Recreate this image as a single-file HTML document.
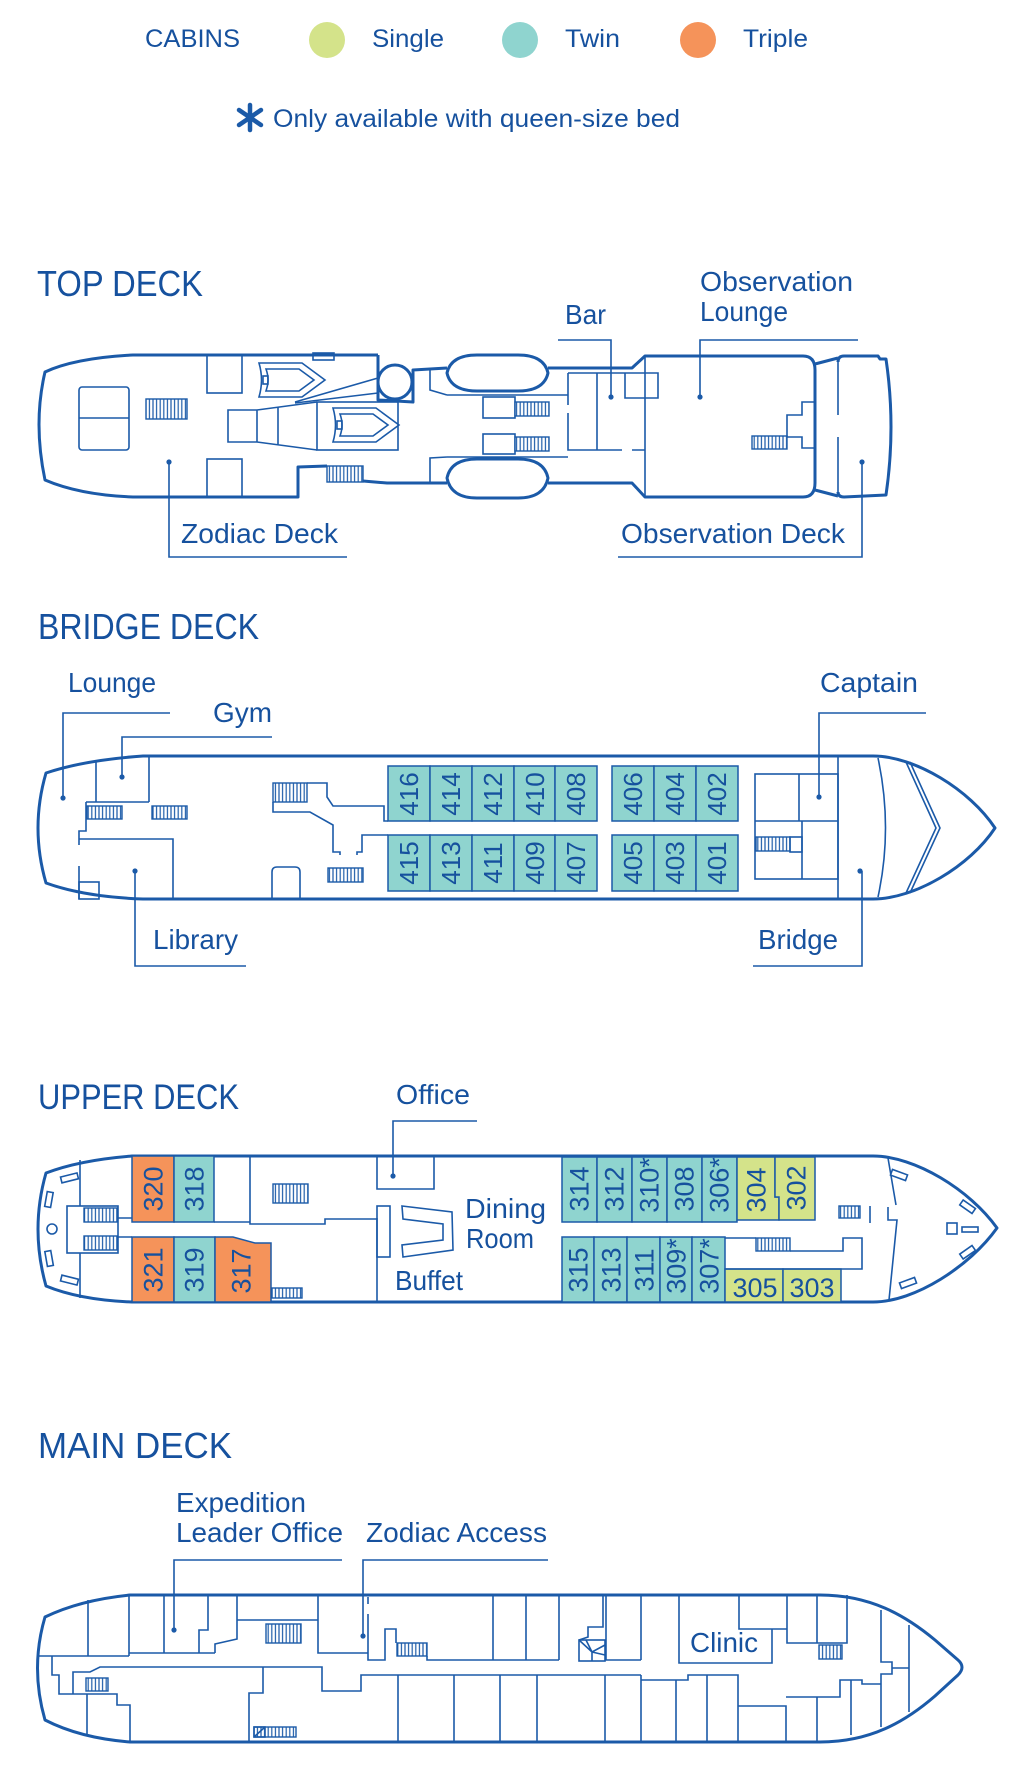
<!DOCTYPE html>
<html><head><meta charset="utf-8"><style>
html,body{margin:0;padding:0;background:#fff}
svg{display:block}
.t{font-family:"Liberation Sans",sans-serif;fill:#16519e}
.hull{fill:none;stroke:#1b5aa8;stroke-width:3;stroke-linejoin:round}
.l{fill:none;stroke:#1b5aa8;stroke-width:1.6}
.st{fill:url(#h);stroke:#1b5aa8;stroke-width:1.4}
.tw{fill:#8fd4cf;stroke:#1b5aa8;stroke-width:1.5}
.or{fill:#f5935a;stroke:#1b5aa8;stroke-width:1.5}
.gr{fill:#d4e38a;stroke:#1b5aa8;stroke-width:1.5}
.d{fill:#1b5aa8}
.n{font-family:"Liberation Sans",sans-serif;fill:#16519e;text-anchor:middle}
</style></head><body>
<svg width="1020" height="1777" viewBox="0 0 1020 1777" xmlns="http://www.w3.org/2000/svg">
<defs>
<pattern id="h" width="3.6" height="10" patternUnits="userSpaceOnUse"><rect width="3.6" height="10" fill="#fff"/><line x1="1.8" y1="0" x2="1.8" y2="10" stroke="#1b5aa8" stroke-width="1.2"/></pattern>
</defs>

<!-- LEGEND -->
<text class="t" x="145" y="47" font-size="25" textLength="95" lengthAdjust="spacingAndGlyphs">CABINS</text>
<circle cx="327" cy="40" r="18" fill="#d4e38a"/>
<text class="t" x="372" y="47" font-size="25" textLength="72" lengthAdjust="spacingAndGlyphs">Single</text>
<circle cx="520" cy="40" r="18" fill="#8fd4cf"/>
<text class="t" x="565" y="47" font-size="25" textLength="55" lengthAdjust="spacingAndGlyphs">Twin</text>
<circle cx="698" cy="40" r="18" fill="#f5935a"/>
<text class="t" x="743" y="47" font-size="25" textLength="65" lengthAdjust="spacingAndGlyphs">Triple</text>
<g stroke="#1b5aa8" stroke-width="4.5" stroke-linecap="round"><line x1="250" y1="105" x2="250" y2="130"/><line x1="239" y1="110" x2="261" y2="125"/><line x1="261" y1="110" x2="239" y2="125"/></g>
<text class="t" x="273" y="127" font-size="25" textLength="407" lengthAdjust="spacingAndGlyphs">Only available with queen-size bed</text>

<!-- TOP DECK -->
<text class="t" x="37" y="296" font-size="36" textLength="166" lengthAdjust="spacingAndGlyphs">TOP DECK</text>
<text class="t" x="565" y="324" font-size="28" textLength="41" lengthAdjust="spacingAndGlyphs">Bar</text>
<text class="t" x="700" y="291" font-size="28" textLength="153" lengthAdjust="spacingAndGlyphs">Observation</text>
<text class="t" x="700" y="321" font-size="28" textLength="88" lengthAdjust="spacingAndGlyphs">Lounge</text>
<text class="t" x="181" y="543" font-size="28" textLength="157" lengthAdjust="spacingAndGlyphs">Zodiac Deck</text>
<text class="t" x="621" y="543" font-size="28" textLength="224" lengthAdjust="spacingAndGlyphs">Observation Deck</text>

<path class="hull" d="M378,355 L133,355 Q75,358 45,372 Q33,423 45,480 Q80,495 133,497 L298,497 L298,467 L327,466 M363,481 L387,483 L447,483"/>
<path class="hull" d="M378,355 V400 L413,402 V370 L447,368"/>
<circle cx="395" cy="382" r="17" class="hull" stroke-width="2.4"/>
<path class="hull" d="M447,373 Q451,355 477,355 L518,355 Q544,355 548,373 Q544,391 518,391 L477,391 Q451,391 447,373 Z"/>
<path class="hull" d="M447,478 Q451,459 477,459 L518,459 Q544,459 548,478 Q544,498 518,498 L477,498 Q451,498 447,478 Z"/>
<path class="hull" d="M548,368 L632,368 L645,356 L803,356 Q815,356 815,370 L815,483 Q815,497 803,497 L645,497 L632,483 L548,483"/>
<path class="hull" d="M815,364 L838,358 M815,490 L838,496"/>
<path class="hull" d="M838,362 Q838,356 844,356 L878,356 L880,359 L886,359 Q896,427 886,495 L844,497 Q838,497 838,492"/>
<path class="l" d="M838,360 V415 M838,437 V495"/>
<path class="l" d="M645,356 V497"/>
<!-- lounge notch -->
<path class="l" d="M815,402 H802 V415 H787 V437 H802 V448 H815"/>
<rect class="st" x="752" y="436" width="35" height="13"/>
<!-- bar -->
<path class="l" d="M568,373 H658 V398 H625 V373 M568,373 V405 M568,413 V450 H622 M632,450 H645 M597,373 V450"/>
<path class="l" d="M447,395 H568 M447,457 H568 M430,368 V390 L447,395 M430,483 V458 L447,457"/>
<!-- middle stairs -->
<rect class="l" x="483" y="397" width="32" height="21"/><rect class="st" x="515" y="402" width="34" height="14"/>
<rect class="l" x="483" y="434" width="32" height="20"/><rect class="st" x="515" y="437" width="34" height="14"/>
<!-- aft interior -->
<rect class="l" x="79" y="387" width="50" height="63" rx="3"/><path class="l" d="M79,418 H129"/>
<rect class="st" x="146" y="399" width="41" height="20"/>
<rect class="l" x="207" y="355" width="35" height="38"/>
<rect class="l" x="207" y="459" width="35" height="38"/>
<rect class="l" x="313" y="353" width="21" height="7"/>
<rect class="st" x="327" y="466" width="36" height="16"/>
<!-- zodiacs -->
<g class="l">
<path d="M259,363 L302,363 L325,380 L302,397 L259,397 Q264,380 259,363 Z"/>
<path d="M266,369 L299,369 L314,380 L299,391 L266,391 Q270,380 266,369 Z"/>
<rect x="263" y="376" width="5" height="8"/>
<path d="M333,408 L376,408 L399,425 L376,442 L333,442 Q338,425 333,408 Z"/>
<path d="M340,414 L373,414 L388,425 L373,436 L340,436 Q344,425 340,414 Z"/>
<rect x="337" y="421" width="5" height="8"/>
</g>
<path class="l" d="M228,410 H257 V442 H228 Z M257,410 L317,402 M257,442 L317,450 M278,407 V445"/>
<rect class="l" x="317" y="402" width="81" height="48"/>
<path class="l" d="M295,402 L378,378 M295,403 L378,393"/>
<!-- leaders -->
<path class="l" d="M169,462 V557 H347 M558,340 H611 V397 M700,397 V340 H858 M618,557 H862 V462"/>
<circle class="d" cx="169" cy="462" r="2.6"/><circle class="d" cx="611" cy="397" r="2.6"/><circle class="d" cx="700" cy="397" r="2.6"/><circle class="d" cx="862" cy="462" r="2.6"/>

<!-- BRIDGE DECK -->
<text class="t" x="38" y="639" font-size="36" textLength="221" lengthAdjust="spacingAndGlyphs">BRIDGE DECK</text>
<text class="t" x="68" y="692" font-size="28" textLength="88" lengthAdjust="spacingAndGlyphs">Lounge</text>
<text class="t" x="213" y="722" font-size="28" textLength="59" lengthAdjust="spacingAndGlyphs">Gym</text>
<text class="t" x="820" y="692" font-size="28" textLength="98" lengthAdjust="spacingAndGlyphs">Captain</text>
<text class="t" x="153" y="949" font-size="28" textLength="85" lengthAdjust="spacingAndGlyphs">Library</text>
<text class="t" x="758" y="949" font-size="28" textLength="80" lengthAdjust="spacingAndGlyphs">Bridge</text>

<path class="hull" d="M143,756 L873,756 C915,756 970,790 995,828 C970,866 915,899 873,899 L143,899 Q85,897 46,883 Q30,828 46,773 Q85,760 143,756 Z"/>
<path class="l" d="M838,756 V899 M878,758 Q893,828 878,897 M906,762 L936,828 L906,893 M910,762 L940,828 L910,893"/>
<rect class="l" x="755" y="774" width="83" height="105"/>
<path class="l" d="M799,774 V821 M755,821 H838 M802,821 V879"/>
<rect class="st" x="756" y="837" width="34" height="14"/><rect class="l" x="790" y="837" width="12" height="15"/>
<!-- aft -->
<path class="l" d="M96,760 V802 M86,802 H149 M149,756 V802 M86,802 V831 H79 V845 M79,839 H173 V899 M79,866 V899"/>
<rect class="l" x="79" y="882" width="20" height="17"/>
<rect class="st" x="87" y="806" width="35" height="13"/><rect class="st" x="152" y="806" width="35" height="13"/>
<!-- middle -->
<rect class="st" x="273" y="783" width="34" height="19"/>
<path class="l" d="M307,783 H327 V797 L333,806 H384 V821 H388 M273,802 V812 H310 L333,825 V852 H340 V855 M357,855 V852 H362 V835 H388"/>
<rect class="st" x="328" y="868" width="35" height="14"/>
<path class="l" d="M272,899 V872 Q272,867 277,867 H295 Q300,867 300,872 V899"/>
<!-- cabins -->
<g>
<rect class="tw" x="388" y="766" width="42" height="55"/><rect class="tw" x="430" y="766" width="42" height="55"/><rect class="tw" x="472" y="766" width="42" height="55"/><rect class="tw" x="514" y="766" width="41" height="55"/><rect class="tw" x="555" y="766" width="42" height="55"/>
<rect class="tw" x="612" y="766" width="42" height="55"/><rect class="tw" x="654" y="766" width="42" height="55"/><rect class="tw" x="696" y="766" width="42" height="55"/>
<rect class="tw" x="388" y="835" width="42" height="56"/><rect class="tw" x="430" y="835" width="42" height="56"/><rect class="tw" x="472" y="835" width="42" height="56"/><rect class="tw" x="514" y="835" width="41" height="56"/><rect class="tw" x="555" y="835" width="42" height="56"/>
<rect class="tw" x="612" y="835" width="42" height="56"/><rect class="tw" x="654" y="835" width="42" height="56"/><rect class="tw" x="696" y="835" width="42" height="56"/>
</g>
<g class="n" font-size="26">
<text transform="translate(409,794) rotate(-90)" y="9">416</text>
<text transform="translate(451,794) rotate(-90)" y="9">414</text>
<text transform="translate(493,794) rotate(-90)" y="9">412</text>
<text transform="translate(535,794) rotate(-90)" y="9">410</text>
<text transform="translate(576,794) rotate(-90)" y="9">408</text>
<text transform="translate(633,794) rotate(-90)" y="9">406</text>
<text transform="translate(675,794) rotate(-90)" y="9">404</text>
<text transform="translate(717,794) rotate(-90)" y="9">402</text>
<text transform="translate(409,863) rotate(-90)" y="9">415</text>
<text transform="translate(451,863) rotate(-90)" y="9">413</text>
<text transform="translate(493,863) rotate(-90)" y="9">411</text>
<text transform="translate(535,863) rotate(-90)" y="9">409</text>
<text transform="translate(576,863) rotate(-90)" y="9">407</text>
<text transform="translate(633,863) rotate(-90)" y="9">405</text>
<text transform="translate(675,863) rotate(-90)" y="9">403</text>
<text transform="translate(717,863) rotate(-90)" y="9">401</text>
</g>
<path class="l" d="M170,713 H63 V798 M272,737 H122 V777 M926,713 H819 V797 M135,871 V966 H246 M753,966 H862 V871"/>
<circle class="d" cx="63" cy="798" r="2.6"/><circle class="d" cx="122" cy="777" r="2.6"/><circle class="d" cx="819" cy="797" r="2.6"/><circle class="d" cx="135" cy="871" r="2.6"/><circle class="d" cx="860" cy="871" r="2.6"/>

<!-- UPPER DECK -->
<text class="t" x="38" y="1109" font-size="35" textLength="201" lengthAdjust="spacingAndGlyphs">UPPER DECK</text>
<text class="t" x="396" y="1104" font-size="28" textLength="74" lengthAdjust="spacingAndGlyphs">Office</text>
<text class="t" x="465" y="1218" font-size="28" textLength="81" lengthAdjust="spacingAndGlyphs">Dining</text>
<text class="t" x="466" y="1248" font-size="28" textLength="68" lengthAdjust="spacingAndGlyphs">Room</text>
<text class="t" x="395" y="1290" font-size="28" textLength="68" lengthAdjust="spacingAndGlyphs">Buffet</text>

<path class="hull" d="M132,1156 L873,1156 C915,1156 970,1190 997,1228 C970,1266 915,1302 873,1302 L132,1302 Q80,1300 46,1286 Q30,1229 46,1173 Q80,1160 132,1156 Z"/>
<!-- cabins -->
<rect class="or" x="132" y="1156" width="42" height="66"/>
<rect class="tw" x="174" y="1156" width="40" height="66"/>
<rect class="or" x="132" y="1237" width="42" height="65"/>
<rect class="tw" x="174" y="1237" width="41" height="65"/>
<path class="or" d="M215,1237 L233,1237 L255,1243 L271,1243 L271,1302 L215,1302 Z"/>
<rect class="tw" x="562" y="1157" width="35" height="65"/><rect class="tw" x="597" y="1157" width="35" height="65"/><rect class="tw" x="632" y="1157" width="35" height="65"/><rect class="tw" x="667" y="1157" width="35" height="65"/><rect class="tw" x="702" y="1157" width="35" height="65"/>
<path class="gr" d="M737,1157 L775,1157 L775,1197 L779,1197 L779,1220 L737,1220 Z"/>
<path class="gr" d="M775,1157 L815,1157 L815,1220 L779,1220 L779,1197 L775,1197 Z"/>
<rect class="tw" x="562" y="1237" width="32" height="65"/><rect class="tw" x="594" y="1237" width="33" height="65"/><rect class="tw" x="627" y="1237" width="33" height="65"/><rect class="tw" x="660" y="1237" width="32" height="65"/><rect class="tw" x="692" y="1237" width="33" height="65"/>
<rect class="gr" x="725" y="1269" width="58" height="33"/><rect class="gr" x="783" y="1269" width="58" height="33"/>
<g class="n" font-size="27">
<text transform="translate(153,1189) rotate(-90)" y="9.5">320</text>
<text transform="translate(194,1189) rotate(-90)" y="9.5">318</text>
<text transform="translate(153,1270) rotate(-90)" y="9.5">321</text>
<text transform="translate(194,1270) rotate(-90)" y="9.5">319</text>
<text transform="translate(241,1271) rotate(-90)" y="9.5">317</text>
<text transform="translate(579,1189) rotate(-90)" y="9.5">314</text>
<text transform="translate(614,1189) rotate(-90)" y="9.5">312</text>
<text transform="translate(649,1185) rotate(-90)" y="9.5">310*</text>
<text transform="translate(684,1189) rotate(-90)" y="9.5">308</text>
<text transform="translate(719,1185) rotate(-90)" y="9.5">306*</text>
<text transform="translate(756,1190) rotate(-90)" y="9.5">304</text>
<text transform="translate(796,1188) rotate(-90)" y="9.5">302</text>
<text transform="translate(578,1270) rotate(-90)" y="9.5">315</text>
<text transform="translate(611,1270) rotate(-90)" y="9.5">313</text>
<text transform="translate(644,1270) rotate(-90)" y="9.5">311</text>
<text transform="translate(676,1266) rotate(-90)" y="9.5">309*</text>
<text transform="translate(709,1266) rotate(-90)" y="9.5">307*</text>
<text x="755" y="1297">305</text>
<text x="812" y="1297">303</text>
</g>
<!-- stern interior -->
<path class="l" d="M80,1160 V1206 M80,1253 V1298 M118,1218 H132 M118,1237 H132"/>
<rect class="l" x="67" y="1206" width="51" height="47"/>
<rect class="st" x="84" y="1208" width="33" height="14"/><rect class="st" x="84" y="1236" width="33" height="14"/>
<rect class="l" x="61" y="1175" width="17" height="6" transform="rotate(-14 69 1178)"/>
<rect class="l" x="46" y="1192" width="6" height="15" transform="rotate(10 49 1199)"/>
<circle class="l" cx="52" cy="1229" r="5"/>
<rect class="l" x="46" y="1251" width="6" height="15" transform="rotate(-10 49 1258)"/>
<rect class="l" x="61" y="1277" width="17" height="6" transform="rotate(14 69 1280)"/>
<!-- middle -->
<path class="l" d="M214,1222 H250 M250,1156 V1224 H325 V1219 H377 M377,1218 V1302 M377,1156 V1189 H434 V1156"/>
<rect class="st" x="273" y="1184" width="35" height="19"/>
<rect class="st" x="272" y="1288" width="30" height="10"/>
<rect class="l" x="377" y="1206" width="13" height="51"/>
<path class="l" d="M402,1206 L452,1212 L453,1250 L403,1257 L402,1245 L443,1240 L443,1224 L403,1219 Z"/>
<!-- bow interior -->
<rect class="st" x="839" y="1206" width="21" height="12"/>
<path class="l" d="M870,1206 V1223 M888,1158 L896,1205 M888,1207 V1220 H897 L889,1300"/>
<path class="l" d="M725,1238 H756 M790,1251 H843 V1238 H862 V1269 H725"/>
<rect class="st" x="756" y="1238" width="34" height="13"/>
<rect class="l" x="891" y="1172" width="16" height="6" transform="rotate(20 899 1175)"/>
<rect class="l" x="960" y="1204" width="15" height="6" transform="rotate(35 968 1207)"/>
<rect class="l" x="947" y="1223" width="10" height="11"/>
<rect class="l" x="962" y="1227" width="16" height="5"/>
<rect class="l" x="960" y="1249" width="15" height="6" transform="rotate(-35 968 1252)"/>
<rect class="l" x="900" y="1280" width="16" height="6" transform="rotate(-20 908 1283)"/>
<path class="l" d="M477,1121 H393 V1176"/><circle class="d" cx="393" cy="1176" r="2.6"/>

<!-- MAIN DECK -->
<text class="t" x="38" y="1458" font-size="36" textLength="194" lengthAdjust="spacingAndGlyphs">MAIN DECK</text>
<text class="t" x="176" y="1512" font-size="28" textLength="130" lengthAdjust="spacingAndGlyphs">Expedition</text>
<text class="t" x="176" y="1542" font-size="28" textLength="167" lengthAdjust="spacingAndGlyphs">Leader Office</text>
<text class="t" x="366" y="1542" font-size="28" textLength="181" lengthAdjust="spacingAndGlyphs">Zodiac Access</text>
<text class="t" x="690" y="1652" font-size="28" textLength="68" lengthAdjust="spacingAndGlyphs">Clinic</text>

<path class="hull" d="M130,1595 L820,1595 C870,1595 905,1615 935,1640 L958,1660 Q966,1667 958,1675 L935,1696 C905,1722 870,1742 820,1742 L130,1742 Q80,1738 45,1720 Q30,1668 45,1617 Q80,1600 130,1595 Z"/>
<path class="l" d="M38,1656 H129 M88,1600 V1656 M129,1595 V1656 M164,1595 V1653 M129,1653 H215 M208,1595 V1630 H199 V1653 M215,1653 V1644 L237,1639 V1595 M237,1620 H318 M318,1595 V1653 H368 M368,1597 V1604 M368,1614 V1660 H385 V1629 H396 V1643 M427,1656 V1660 H559 M493,1595 V1660 M526,1595 V1660 M559,1595 V1660"/>
<rect class="st" x="266" y="1624" width="35" height="19"/>
<rect class="st" x="397" y="1643" width="30" height="13"/>
<path class="l" d="M603,1595 V1627 H588 V1637 L579,1640 M606,1595 V1660 H641 M641,1595 V1660"/>
<rect class="l" x="579" y="1640" width="26" height="21"/>
<path class="l" d="M579,1640 L592,1652 L605,1645 M592,1652 L605,1655 M592,1652 L592,1661 M592,1652 L586,1640"/>
<path class="l" d="M679,1595 V1663 H772 V1629 H787 M739,1595 V1629 H772 M787,1595 V1643 H847 V1595 M817,1595 V1643"/>
<rect class="st" x="819" y="1645" width="23" height="14"/>
<path class="l" d="M881,1610 V1662 H892 V1674 H881 V1727 M892,1668 H909 M909,1625 V1712"/>
<!-- lower band -->
<path class="l" d="M52,1656 V1675 H59 V1694 H117 V1705 H130 V1742 M73,1694 V1672 H90 L100,1667 H322 V1691 H361 V1675 H641 M87,1694 V1735"/>
<rect class="st" x="86" y="1678" width="22" height="13"/>
<path class="l" d="M263,1667 V1693 H249 V1742 M398,1675 V1742 M454,1675 V1742 M500,1675 V1742 M537,1675 V1742 M605,1675 V1742 M641,1675 V1742 M641,1680 H688 V1675 H738 V1742 M676,1680 V1742 M707,1675 V1742 M738,1706 H786 V1742 M786,1697 H840 V1680 H862 V1684 H881 M817,1697 V1742 M851,1680 V1735"/>
<rect class="st" x="254" y="1727" width="42" height="10"/>
<rect class="l" x="254" y="1727" width="11" height="10" fill="#fff"/><path class="l" d="M254,1737 L265,1727"/>
<path class="l" d="M342,1560 H174 V1630 M548,1560 H363 V1636"/>
<circle class="d" cx="174" cy="1630" r="2.6"/><circle class="d" cx="363" cy="1636" r="2.6"/>
</svg>
</body></html>
